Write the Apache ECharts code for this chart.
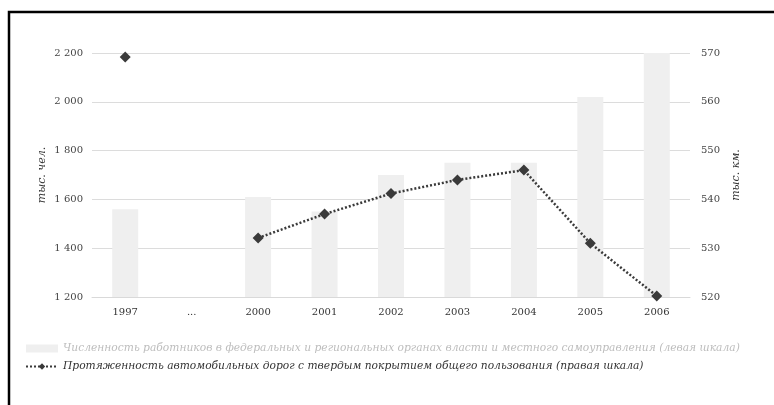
<!DOCTYPE html>
<html>
<head>
<meta charset="utf-8">
<script src="https://cdn.jsdelivr.net/npm/echarts@6/dist/echarts.min.js"></script>
<style>
html,body{margin:0;padding:0;background:#fff;}
#c{width:774px;height:405px;}
</style>
</head>
<body>
<div id="c"></div>
<script>
const categories = ['1997', '...', '2000', '2001', '2002', '2003', '2004', '2005', '2006'];
const employees = [1560, null, 1610, 1550, 1700, 1750, 1750, 2020, 2200];
const roads = [569.2, null, 532.1, 537, 541.2, 544, 546, 531, 520.2];
const leftTicks = {min: 1200, max: 2200, interval: 200};
const rightTicks = {min: 520, max: 570, interval: 10};
const nameBars = 'Численность работников в федеральных и региональных органах власти и местного самоуправления (левая шкала)';
const nameLine = 'Протяженность автомобильных дорог с твердым покрытием общего пользования (правая шкала)';

const serif = '"DejaVu Serif", "Liberation Serif", serif';
const chart = echarts.init(document.getElementById('c'));
function fmt(v){ return String(v).replace(/\B(?=(\d{3})+(?!\d))/g, ' '); }
chart.setOption({
  animation: false,
  backgroundColor: '#fff',
  textStyle: {fontFamily: serif},
  graphic: [
    {type: 'polyline', shape: {points: [[9, 420], [9, 12], [790, 12]]}, style: {stroke: '#000', lineWidth: 2.5, fill: null}}
  ],
  grid: {left: 92, right: 84, top: 53, bottom: 108},
  legend: {
    orient: 'vertical', left: 20, top: 338, itemGap: 7, itemWidth: 32, itemHeight: 8,
    textStyle: {fontFamily: serif, fontStyle: 'italic', fontSize: 10.7},
    data: [
      {name: nameBars, icon: 'rect', textStyle: {color: '#bdbdbd'}},
      {name: nameLine, textStyle: {color: '#333'}}
    ]
  },
  xAxis: {
    type: 'category', data: categories,
    axisLine: {lineStyle: {color: '#d9d9d9'}},
    axisTick: {show: false},
    axisLabel: {color: '#333', fontSize: 10, margin: 10, fontFamily: serif}
  },
  yAxis: [
    {
      type: 'value', min: leftTicks.min, max: leftTicks.max, interval: leftTicks.interval,
      name: 'тыс. чел.', nameLocation: 'middle', nameGap: 44, nameRotate: 90, nameMoveOverlap: false,
      nameTextStyle: {fontStyle: 'italic', fontSize: 11, color: '#333', fontFamily: serif},
      axisLine: {show: false}, axisTick: {show: false},
      axisLabel: {color: '#444', fontSize: 10, margin: 9, formatter: fmt, fontFamily: serif},
      splitLine: {lineStyle: {color: '#dcdcdc'}}
    },
    {
      type: 'value', min: rightTicks.min, max: rightTicks.max, interval: rightTicks.interval,
      name: 'тыс. км.', nameLocation: 'middle', nameGap: 38, nameRotate: 90,
      nameTextStyle: {fontStyle: 'italic', fontSize: 11, color: '#333', fontFamily: serif},
      axisLine: {show: false}, axisTick: {show: false},
      axisLabel: {color: '#444', fontSize: 10, margin: 11, fontFamily: serif},
      splitLine: {show: false}
    }
  ],
  series: [
    {
      name: nameBars, type: 'bar', data: employees, barWidth: 26, yAxisIndex: 0,
      itemStyle: {color: '#efefef'}
    },
    {
      name: nameLine, type: 'line', data: roads, yAxisIndex: 1, connectNulls: false,
      symbol: 'diamond', symbolSize: 11,
      lineStyle: {color: '#3a3a3a', width: 2.5, type: [2, 2]},
      itemStyle: {color: '#3a3a3a'}
    }
  ]
});
</script>
</body>
</html>
